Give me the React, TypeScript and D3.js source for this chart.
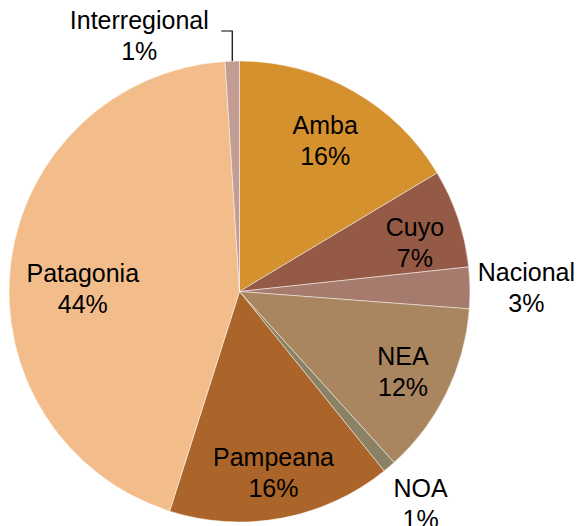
import React from "react";
import * as d3 from "d3";

const categories = ["Amba", "Cuyo", "Nacional", "NEA", "NOA", "Pampeana", "Patagonia", "Interregional"];
const values = [16.4, 6.9, 2.9, 12.1, 0.9, 15.7, 44.1, 1.0];
const colors = ["#D5912E", "#945A45", "#A67A6D", "#A9865F", "#8B8265", "#AB6429", "#F3BD8B", "#C39C94"];

// label layout: radius as a fraction of the pie radius, plus a small angle nudge (degrees)
const labelRadius = [0.755, 0.79, 1.245, 0.79, 1.21, 0.8, 0.68, 0];
const labelAngleNudge = [0, 3, 0, 0, 0, 0, -6, 0];

const W = 580;
const H = 526;
const cx = 239.5;
const cy = 291.5;
const R = 230.5;
const FONT = 25;
const LINE = 31;

export default function App() {
  const data = categories.map((c, i) => ({ name: c, value: values[i], color: colors[i], i }));
  const pie = d3.pie<any>().sort(null).value((d: any) => d.value).startAngle(0).endAngle(2 * Math.PI);
  const arcs = pie(data);
  const arc = d3.arc<any>().innerRadius(0).outerRadius(R);
  const total = d3.sum(values);

  return (
    <svg width={W} height={H} style={{ position: "absolute", left: 0, top: 0 }} fontFamily="'Liberation Sans', Arial, sans-serif">
      <g transform={`translate(${cx},${cy})`}>
        {arcs.map((a) => (
          <path key={a.data.name} d={arc(a) as string} fill={a.data.color} stroke="#ffffff" strokeOpacity={0.6} strokeWidth={0.8} />
        ))}
        {arcs.map((a) => {
          const i = a.data.i;
          const pct = Math.round((a.data.value / total) * 100) + "%";
          const mid = (a.startAngle + a.endAngle) / 2;
          if (labelRadius[i] === 0) {
            // leader-line label (Interregional)
            const px = R * Math.sin(mid);
            const py = -R * Math.cos(mid);
            const elbowY = -cy + 31;
            const endX = px - 11;
            const tx = endX - 82;
            const ty = elbowY + 4.5;
            return (
              <g key={a.data.name + "-l"}>
                <polyline points={`${px},${py} ${px},${elbowY} ${endX},${elbowY}`} fill="none" stroke="#000" strokeWidth={1.2} />
                <text x={tx} y={ty - 6.5} textAnchor="middle" fontSize={FONT} fill="#000">{a.data.name}</text>
                <text x={tx} y={ty + 24.5} textAnchor="middle" fontSize={FONT} fill="#000">{pct}</text>
              </g>
            );
          }
          const ang = mid + (labelAngleNudge[i] * Math.PI) / 180;
          const r = labelRadius[i] * R;
          const lx = r * Math.sin(ang);
          const ly = -r * Math.cos(ang);
          return (
            <g key={a.data.name + "-l"}>
              <text x={lx} y={ly - 6.5} textAnchor="middle" fontSize={FONT} fill="#000">{a.data.name}</text>
              <text x={lx} y={ly + 24.5} textAnchor="middle" fontSize={FONT} fill="#000">{pct}</text>
            </g>
          );
        })}
      </g>
    </svg>
  );
}
